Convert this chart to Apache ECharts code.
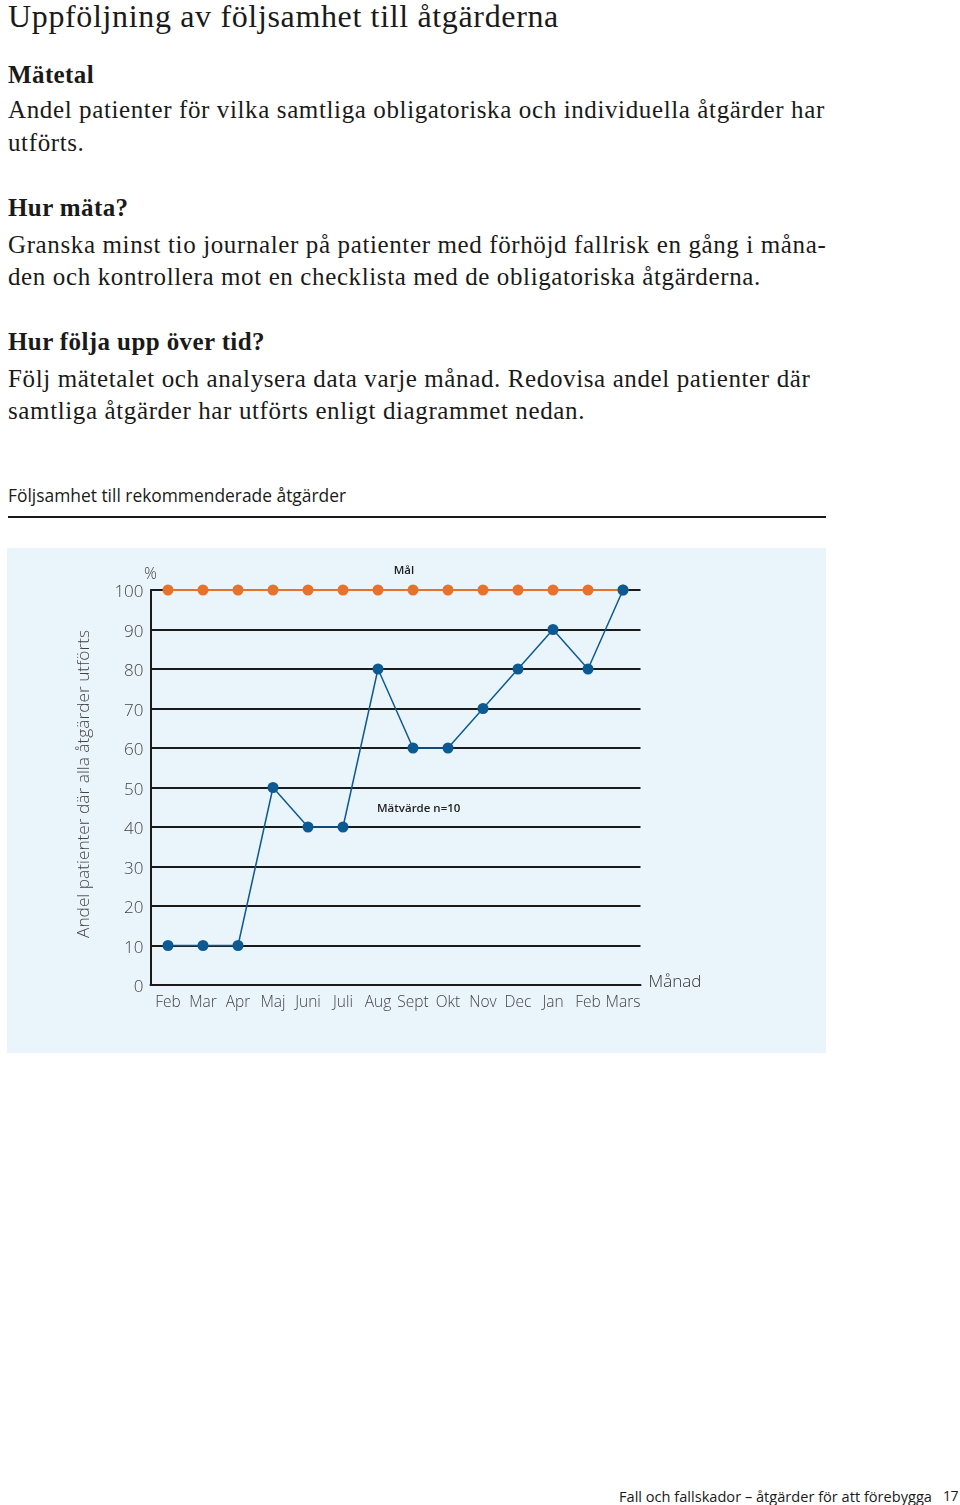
<!DOCTYPE html>
<html>
<head>
<meta charset="utf-8">
<script src="https://cdn.jsdelivr.net/npm/echarts@6/dist/echarts.min.js"></script>
<style>
  html, body { margin: 0; padding: 0; background: #fff; }
  body { width: 960px; height: 1505px; position: relative; overflow: hidden; }
  .serif { font-family: "Liberation Serif", "DejaVu Serif", serif; color: #1a1a1a; position: absolute; left: 8px; white-space: nowrap; }
  .h1 { font-size: 32px; line-height: 32px; letter-spacing: 0.65px; }
  .h2 { font-size: 25px; font-weight: bold; line-height: 25px; letter-spacing: 0.4px; }
  .p { font-size: 25px; line-height: 25px; letter-spacing: 0.62px; }
  .sans { font-family: "Open Sans", "Lato", sans-serif; color: #1a1a1a; position: absolute; white-space: nowrap; }
  #rule { position: absolute; left: 8px; top: 516px; width: 818px; height: 2px; background: #1a1a1a; }
  #chart { position: absolute; left: 7px; top: 548px; width: 819px; height: 505px; background: #eaf4fb; }
</style>
</head>
<body>
<div class="serif h1" style="top:0px">Uppföljning av följsamhet till åtgärderna</div>
<div class="serif h2" style="top:62px">Mätetal</div>
<div class="serif p" style="top:97px">Andel patienter för vilka samtliga obligatoriska och individuella åtgärder har</div>
<div class="serif p" style="top:130px">utförts.</div>
<div class="serif h2" style="top:195px">Hur mäta?</div>
<div class="serif p" style="top:232px">Granska minst tio journaler på patienter med förhöjd fallrisk en gång i måna-</div>
<div class="serif p" style="top:264px">den och kontrollera mot en checklista med de obligatoriska åtgärderna.</div>
<div class="serif h2" style="top:329px">Hur följa upp över tid?</div>
<div class="serif p" style="top:366px">Följ mätetalet och analysera data varje månad. Redovisa andel patienter där</div>
<div class="serif p" style="top:398px">samtliga åtgärder har utförts enligt diagrammet nedan.</div>

<div class="sans" style="left:8px; top:483px; font-size:17.4px;">Följsamhet till rekommenderade åtgärder</div>
<div id="rule"></div>
<div id="chart"></div>
<div class="sans" style="left:619px; top:1486px; font-size:14.6px;">Fall och fallskador – åtgärder för att förebygga</div>
<div class="sans" style="left:943px; top:1486px; font-size:14px; letter-spacing:-0.5px;">17</div>

<script>
// ---- data ----
const months = ["Feb", "Mar", "Apr", "Maj", "Juni", "Juli", "Aug", "Sept", "Okt", "Nov", "Dec", "Jan", "Feb", "Mars"];
const target = [100, 100, 100, 100, 100, 100, 100, 100, 100, 100, 100, 100, 100, 100];
const measured = [10, 10, 10, 50, 40, 40, 80, 60, 60, 70, 80, 90, 80, 100];
const yTicks = { min: 0, max: 100, interval: 10 };
const yTitle = "Andel patienter där alla åtgärder utförts";
const xTitle = "Månad";
const yUnit = "%";
const targetLabel = "Mål";
const measuredLabel = "Mätvärde n=10";

const FONT = '"Open Sans", "Lato", sans-serif';
const chart = echarts.init(document.getElementById('chart'), null, { renderer: 'canvas' });
chart.setOption({
  animation: false,
  backgroundColor: '#eaf4fb',
  grid: { left: 143.5, top: 42, width: 490, height: 395 },
  xAxis: {
    type: 'category',
    data: months,
    boundaryGap: true,
    name: xTitle,
    nameLocation: 'end',
    nameGap: 8,
    nameTextStyle: { fontFamily: FONT, fontSize: 17, color: '#333', fontWeight: 300, verticalAlign: 'bottom', padding: [0, 0, -6, 0] },
    axisLine: { lineStyle: { color: '#1a1a1a', width: 2 } },
    axisTick: { show: false },
    axisLabel: { fontFamily: FONT, fontSize: 15.5, color: '#444', margin: 10, interval: 0, fontWeight: 300 },
    splitLine: { show: false }
  },
  yAxis: {
    type: 'value',
    min: yTicks.min, max: yTicks.max, interval: yTicks.interval,
    name: yUnit,
    nameLocation: 'end',
    nameGap: 8,
    nameTextStyle: { fontFamily: FONT, fontSize: 16, color: '#444', fontWeight: 300 },
    axisLine: { show: true, lineStyle: { color: '#1a1a1a', width: 2 } },
    axisTick: { show: false },
    axisLabel: { fontFamily: FONT, fontSize: 17, color: '#444', margin: 7, fontWeight: 300, verticalAlign: 'top', padding: [-6, 0, 0, 0] },
    splitLine: { show: true, lineStyle: { color: '#1a1a1a', width: 2 } }
  },
  graphic: [
    { type: 'text', x: 77, y: 236, rotation: Math.PI / 2,
      style: { text: yTitle, font: '300 17.3px ' + FONT, fill: '#444', align: 'center', verticalAlign: 'middle' } },
    { type: 'text', x: 397, y: 23, style: { text: targetLabel, font: '600 11.5px ' + FONT, fill: '#222', align: 'center', verticalAlign: 'middle' } },
    { type: 'text', x: 370, y: 261, style: { text: measuredLabel, font: '600 11.5px ' + FONT, fill: '#222', align: 'left', verticalAlign: 'middle' } }
  ],
  series: [
    {
      name: targetLabel, type: 'line', data: target,
      symbol: 'circle', symbolSize: 11,
      itemStyle: { color: '#e8722c' },
      lineStyle: { color: '#e8722c', width: 2 },
      z: 3
    },
    {
      name: measuredLabel, type: 'line', data: measured,
      symbol: 'circle', symbolSize: 11,
      itemStyle: { color: '#0d5a92' },
      lineStyle: { color: '#0d5a92', width: 1.5 },
      z: 4
    }
  ]
});
</script>
</body>
</html>
